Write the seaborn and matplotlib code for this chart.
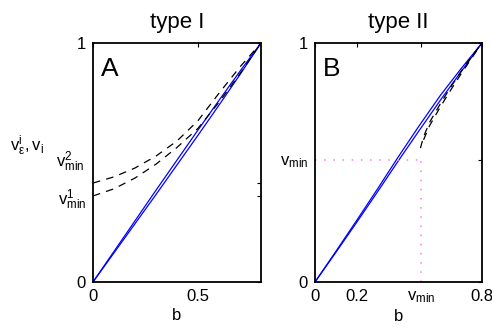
import matplotlib
matplotlib.use("Agg")
import matplotlib.pyplot as plt
import seaborn as sns

# --- data ---
b_grid = [0, 0.1, 0.2, 0.3, 0.4, 0.5, 0.6, 0.7, 0.8]

# panel A (type I)
a_blue_hi = [0, 0.128, 0.256, 0.384, 0.510, 0.636, 0.760, 0.882, 1.0]
a_blue_lo = [0, 0.122, 0.244, 0.366, 0.490, 0.614, 0.740, 0.868, 1.0]
a_dash_hi = [0.414, 0.440, 0.477, 0.527, 0.590, 0.675, 0.790, 0.900, 1.0]
a_dash_lo = [0.360, 0.390, 0.435, 0.493, 0.563, 0.643, 0.752, 0.872, 1.0]
vmin1 = 0.360
vmin2 = 0.414

# panel B (type II)
b_blue_hi = [0, 0.128, 0.258, 0.390, 0.525, 0.655, 0.780, 0.893, 1.0]
b_blue_lo = [0, 0.124, 0.250, 0.378, 0.508, 0.635, 0.760, 0.880, 1.0]
b_dash_x1 = [0.505, 0.52, 0.55, 0.60, 0.65, 0.70, 0.75, 0.80]
b_dash_y1 = [0.560, 0.608, 0.670, 0.745, 0.815, 0.882, 0.943, 1.0]
b_dash_x2 = [0.52, 0.55, 0.60, 0.65, 0.70, 0.75, 0.80]
b_dash_y2 = [0.595, 0.656, 0.732, 0.803, 0.871, 0.936, 1.0]
vmin = 0.51

sns.set_style("white")
plt.rcParams["font.family"] = ["Liberation Sans", "DejaVu Sans"]
plt.rcParams["mathtext.default"] = "regular"
for key in ("text.color", "axes.labelcolor", "xtick.color", "ytick.color"):
    plt.rcParams[key] = "black"

fig = plt.figure(figsize=(4.92, 3.32), dpi=100)
axA = fig.add_axes([93 / 492, 50 / 332, 168 / 492, 239 / 332])
axB = fig.add_axes([315 / 492, 50 / 332, 167 / 492, 239 / 332])

blue = "#0000ff"
dash = (0, (6, 5))

for y in (a_blue_hi, a_blue_lo):
    sns.lineplot(x=b_grid, y=y, ax=axA, color=blue, lw=0.9, sort=False, estimator=None)
for y in (a_dash_hi, a_dash_lo):
    sns.lineplot(x=b_grid, y=y, ax=axA, color="black", lw=0.9, sort=False,
                 estimator=None, linestyle=dash)

for y in (b_blue_hi, b_blue_lo):
    sns.lineplot(x=b_grid, y=y, ax=axB, color=blue, lw=0.9, sort=False, estimator=None)
sns.lineplot(x=b_dash_x1, y=b_dash_y1, ax=axB, color="black", lw=0.9, sort=False,
             estimator=None, linestyle=dash)
sns.lineplot(x=b_dash_x2, y=b_dash_y2, ax=axB, color="black", lw=0.9, sort=False,
             estimator=None, linestyle=dash)
# v_min guide lines
dot = (0, (1, 5))
axB.plot([0, vmin], [vmin, vmin], color="#f07cf0", lw=1.1, linestyle=dot)
axB.plot([vmin, vmin], [0, vmin], color="#f07cf0", lw=1.1, linestyle=dot)

for ax in (axA, axB):
    ax.set_xlim(0, 0.8)
    ax.set_ylim(0, 1)
    ax.tick_params(direction="in", top=True, right=True, length=3, width=0.8,
                   labelsize=12, pad=5)
    for s in ax.spines.values():
        s.set_linewidth(1.3)
        s.set_color("black")
    ax.set_xlabel("b", fontsize=12, labelpad=3)

axA.set_title("type I", fontsize=16, pad=11)
axB.set_title("type II", fontsize=16, pad=11)

axA.set_xticks([0, 0.5])
axA.set_xticklabels(["0", "0.5"])
axA.set_yticks([0, vmin1, vmin2, 1])
axA.set_yticklabels(["0", r"$v^1_{min}$", "", "1"])
axA.text(-0.05, vmin2 + 0.09, r"$v^2_{min}$", transform=axA.get_yaxis_transform(),
         ha="right", va="center", fontsize=12)
axA.text(-0.29, 0.57, r"$v^i_{\epsilon},v_i$", transform=axA.transAxes,
         ha="right", va="center", fontsize=12)
axA.text(0.05, 0.94, "A", transform=axA.transAxes, ha="left", va="top", fontsize=19)

axB.set_xticks([0, 0.2, vmin, 0.8])
axB.set_xticklabels(["0", "0.2", r"$v_{min}$", "0.8"])
axB.set_yticks([0, vmin, 1])
axB.set_yticklabels(["0", r"$v_{min}$", "1"])
axB.text(0.05, 0.94, "B", transform=axB.transAxes, ha="left", va="top", fontsize=19)

fig.savefig("out.png", dpi=100)
